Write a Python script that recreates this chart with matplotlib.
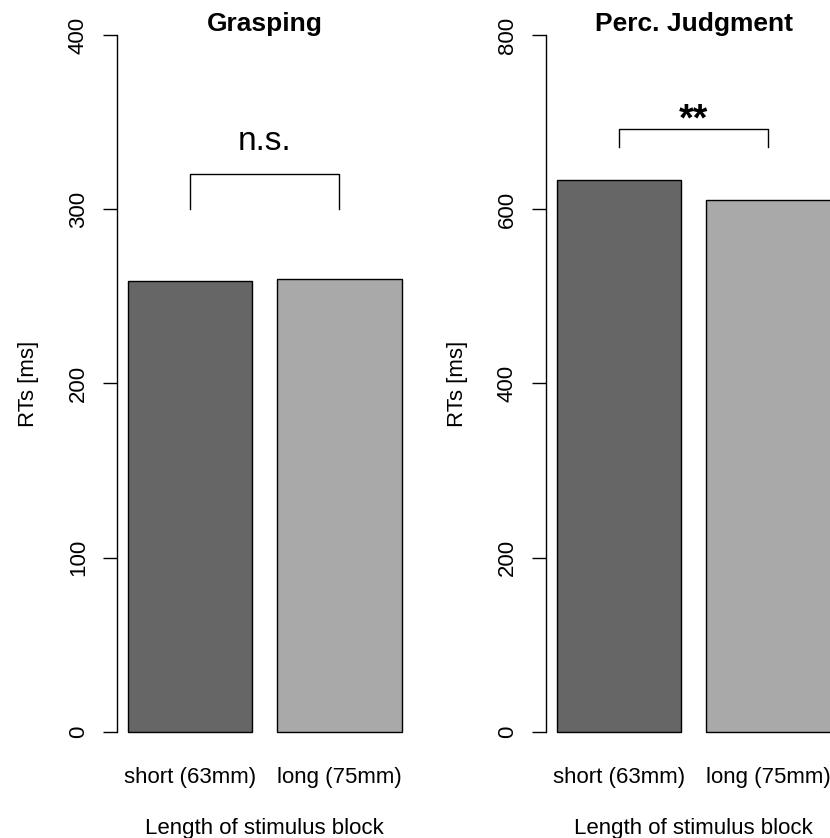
import matplotlib
matplotlib.use("Agg")
import matplotlib.pyplot as plt

plt.rcParams['font.family'] = ['Liberation Sans', 'DejaVu Sans']

categories = ['short (63mm)', 'long (75mm)']
grasp_rt = [259, 260]
judge_rt = [633, 611]
titles = ['Grasping', 'Perc. Judgment']
ymax = [400, 800]
yticks = [[0, 100, 200, 300, 400], [0, 200, 400, 600, 800]]
sig_labels = ['n.s.', '**']
# bracket: leg bottom, top
brackets = [(300, 320), (672, 692)]
label_y = [339, 702]
bar_colors = ['#666666', '#A9A9A9']

W, H = 830, 838
fig = plt.figure(figsize=(W / 100, H / 100), dpi=100)

# R-style barplot layout: width 1, space 0.2, 4% axis padding
lefts = [0.2, 1.4]
centers = [l + 0.5 for l in lefts]
xlo, xhi = 0.2 - 0.088, 2.4 + 0.088

panel_left = [116.7, 545.7]
ax_bottom = (H - 759.9) / H
ax_height = (759.9 - 7.1) / H
ax_width = 296 / W

fs = 16
for i, vals in enumerate([grasp_rt, judge_rt]):
    ax = fig.add_axes([panel_left[i] / W, ax_bottom, ax_width, ax_height])
    ax.bar(centers, vals, width=1.0, color=bar_colors, edgecolor='black', linewidth=1.0)
    pad = ymax[i] * 0.04
    ax.set_xlim(xlo, xhi)
    ax.set_ylim(-pad, ymax[i] + pad)
    for s in ['top', 'right', 'bottom']:
        ax.spines[s].set_visible(False)
    ax.spines['left'].set_bounds(0, ymax[i])
    ax.spines['left'].set_linewidth(1.0)
    ax.set_yticks(yticks[i])
    ax.set_yticklabels([str(t) for t in yticks[i]], rotation=90, va='center')
    ax.tick_params(axis='y', length=10, width=1.0, labelsize=fs, pad=10)
    ax.set_xticks(centers)
    ax.set_xticklabels(categories)
    ax.tick_params(axis='x', length=0, labelsize=fs, pad=5)
    ax.text(0.5, 0.9776, titles[i], transform=ax.transAxes, ha='center', va='center',
            fontsize=19, fontweight='bold')
    ax.set_ylabel('RTs [ms]', fontsize=fs, labelpad=21)
    ax.set_xlabel('Length of stimulus block', fontsize=fs, labelpad=22)

    lo, hi = brackets[i]
    ax.plot([centers[0], centers[0], centers[1], centers[1]], [lo, hi, hi, lo],
            color='black', linewidth=1.0)
    ax.text(sum(centers) / 2, label_y[i], sig_labels[i], ha='center', va='center',
            fontsize=24 if i == 0 else 27, fontweight='normal' if i == 0 else 'bold')

fig.savefig('out.png', dpi=100)
